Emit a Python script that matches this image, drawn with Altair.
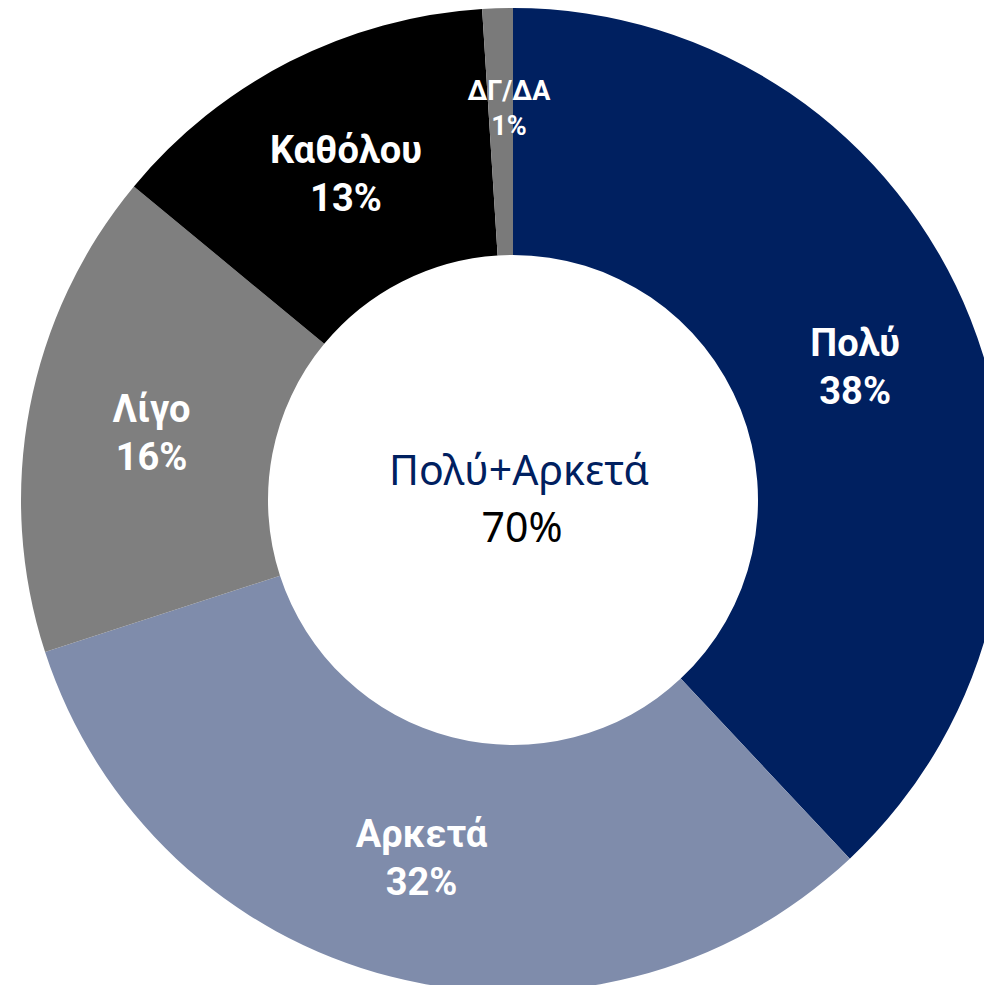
import altair as alt
import pandas as pd

categories = ["Πολύ", "Αρκετά", "Λίγο", "Καθόλου", "ΔΓ/ΔΑ"]
values = [38, 32, 16, 13, 1]
colors = ["#002060", "#7F8CAB", "#7F7F7F", "#000000", "#7A7A7A"]
center_title = "Πολύ+Αρκετά"
center_value = "70%"
small_cat = "ΔΓ/ΔΑ"

df = pd.DataFrame({
    "cat": categories,
    "val": values,
    "order": list(range(len(categories))),
    "label": [f"{c}\n{v}%" for c, v in zip(categories, values)],
})

CX, CY = 505, 492
R_OUT, R_IN = 492, 245

theta = alt.Theta("val:Q", stack=True)
order = alt.Order("order:Q")

arcs = alt.Chart(df).mark_arc(outerRadius=R_OUT, innerRadius=R_IN).encode(
    theta=theta,
    order=order,
    color=alt.Color("cat:N", scale=alt.Scale(domain=categories, range=colors), legend=None),
    x=alt.value(CX), y=alt.value(CY),
)

labels_main = alt.Chart(df).mark_text(
    radius=368, dy=-20, font="Roboto", fontWeight="bold", fontSize=38,
    color="white", lineBreak="\n", lineHeight=48, align="center", baseline="middle",
).encode(
    theta=theta, order=order,
    text=alt.condition(alt.datum.cat != small_cat, alt.Text("label:N"), alt.value("")),
    x=alt.value(CX), y=alt.value(CY),
)

labels_small = alt.Chart(df).mark_text(
    radius=385, dx=8, dy=-23, font="Roboto", fontWeight="bold", fontSize=27,
    color="white", lineBreak="\n", lineHeight=35, align="center", baseline="middle",
).encode(
    theta=theta, order=order,
    text=alt.condition(alt.datum.cat == small_cat, alt.Text("label:N"), alt.value("")),
    x=alt.value(CX), y=alt.value(CY),
)

ctitle = alt.Chart(pd.DataFrame({"t": [center_title]})).mark_text(
    font="Noto Sans", fontSize=41, color="#002060", align="center", baseline="alphabetic",
).encode(text="t:N", x=alt.value(CX + 6), y=alt.value(477))

cval = alt.Chart(pd.DataFrame({"t": [center_value]})).mark_text(
    font="Noto Sans", fontSize=41, color="black", align="center", baseline="alphabetic",
).encode(text="t:N", x=alt.value(CX + 9), y=alt.value(534))

chart = alt.layer(arcs, labels_main, labels_small, ctitle, cval).properties(
    width=976, height=977, padding=0, autosize=alt.AutoSizeParams(type="none"),
).configure_view(stroke=None)

chart.save("out.html", embed_options={"renderer": "svg", "actions": False})
